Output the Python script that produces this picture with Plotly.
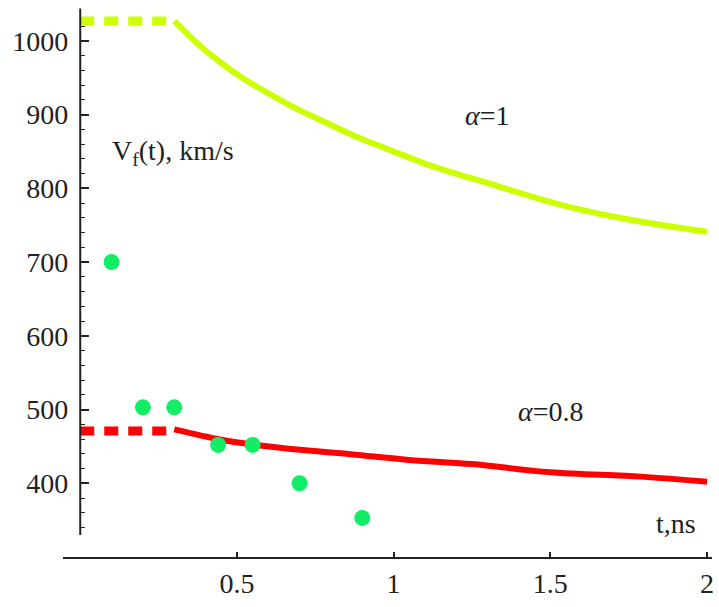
import plotly.graph_objects as go

# --- data ---
t_dash = [0.0, 0.3]
v1_dash = [1027, 1027]
v08_dash = [471, 471]

t_a1 = [0.3, 0.38, 0.45, 0.52, 0.6, 0.69, 0.79, 0.87, 1.0, 1.13, 1.27, 1.54, 1.76, 2.0]
v_a1 = [1027, 994, 970, 949, 929, 908, 888, 872, 850, 829, 811, 777, 757, 741]

t_a08 = [0.3, 0.45, 0.56, 0.71, 0.87, 1.04, 1.25, 1.5, 1.79, 2.0]
v_a08 = [473, 459, 452, 445, 439, 432, 426, 415, 409, 402]

t_exp = [0.1, 0.2, 0.3, 0.44, 0.55, 0.7, 0.9]
v_exp = [700, 503, 503, 452, 452, 400, 353]

x_ticks = [0.5, 1, 1.5, 2]
x_ticklabels = ["0.5", "1", "1.5", "2"]
y_ticks = [400, 500, 600, 700, 800, 900, 1000]
y_minor = [v for v in range(340, 1040, 20) if v % 100 != 0]

GREEN_LINE = "#CCFF00"
RED_LINE = "#FF0000"
DOT = "#11EE66"
FONT = "Liberation Serif"

fig = go.Figure()
fig.add_trace(go.Scatter(x=t_dash, y=v1_dash, mode="lines",
                         line=dict(color=GREEN_LINE, width=9, dash="14px,10px")))
fig.add_trace(go.Scatter(x=t_a1, y=v_a1, mode="lines", line_shape="spline",
                         line=dict(color=GREEN_LINE, width=6)))
fig.add_trace(go.Scatter(x=t_dash, y=v08_dash, mode="lines",
                         line=dict(color=RED_LINE, width=9, dash="14px,10px")))
fig.add_trace(go.Scatter(x=t_a08, y=v_a08, mode="lines", line_shape="spline",
                         line=dict(color=RED_LINE, width=6)))
fig.add_trace(go.Scatter(x=t_exp, y=v_exp, mode="markers",
                         marker=dict(color=DOT, size=16, line=dict(width=0))))

xr = [-0.055, 2.016]
fig.update_layout(
    width=719, height=607,
    margin=dict(l=63, r=7, t=4, b=50),
    paper_bgcolor="white", plot_bgcolor="white",
    showlegend=False,
    font=dict(family=FONT, color="#222222", size=28),
    xaxis=dict(range=xr, showgrid=False, zeroline=False, automargin=False,
               showline=True, linecolor="#222222", linewidth=2,
               tickvals=x_ticks, ticktext=x_ticklabels,
               ticks="inside", ticklen=5, tickwidth=1.5, tickcolor="#222222",
               tickfont=dict(family=FONT, size=28, color="#222222")),
    yaxis=dict(range=[300, 1050], showgrid=False, zeroline=False, automargin=False,
               showline=False, anchor="free",
               position=(0 - xr[0]) / (xr[1] - xr[0]),
               tickvals=y_ticks, ticks="inside", ticklen=8, tickwidth=1.5,
               tickcolor="#222222", ticklabelstandoff=12,
               tickfont=dict(family=FONT, size=28, color="#222222"),
               minor=dict(tickvals=y_minor, ticks="inside", ticklen=4,
                          tickwidth=1.2, tickcolor="#222222")),
)

# y axis line (from 330 up to 1044, as in the reference)
fig.add_shape(type="line", xref="x", yref="y", x0=0, x1=0, y0=330, y1=1044,
              line=dict(color="#222222", width=2), layer="above")

fig.add_annotation(x=0.095, y=848, xref="x", yref="y", xanchor="left", yanchor="middle",
                   text="V<sub>f</sub>(t), km/s", showarrow=False,
                   font=dict(family=FONT, size=28, color="#222222"))
fig.add_annotation(x=1.298, y=899, xref="x", yref="y",
                   text="<i>α</i>=1", showarrow=False,
                   font=dict(family=FONT, size=28, color="#222222"))
fig.add_annotation(x=1.502, y=497, xref="x", yref="y",
                   text="<i>α</i>=0.8", showarrow=False,
                   font=dict(family=FONT, size=28, color="#222222"))
fig.add_annotation(x=1.901, y=346, xref="x", yref="y",
                   text="t,ns", showarrow=False,
                   font=dict(family=FONT, size=28, color="#222222"))

fig.write_html("out.html", config={"displayModeBar": False},
               post_script="document.body.style.margin='0';")
